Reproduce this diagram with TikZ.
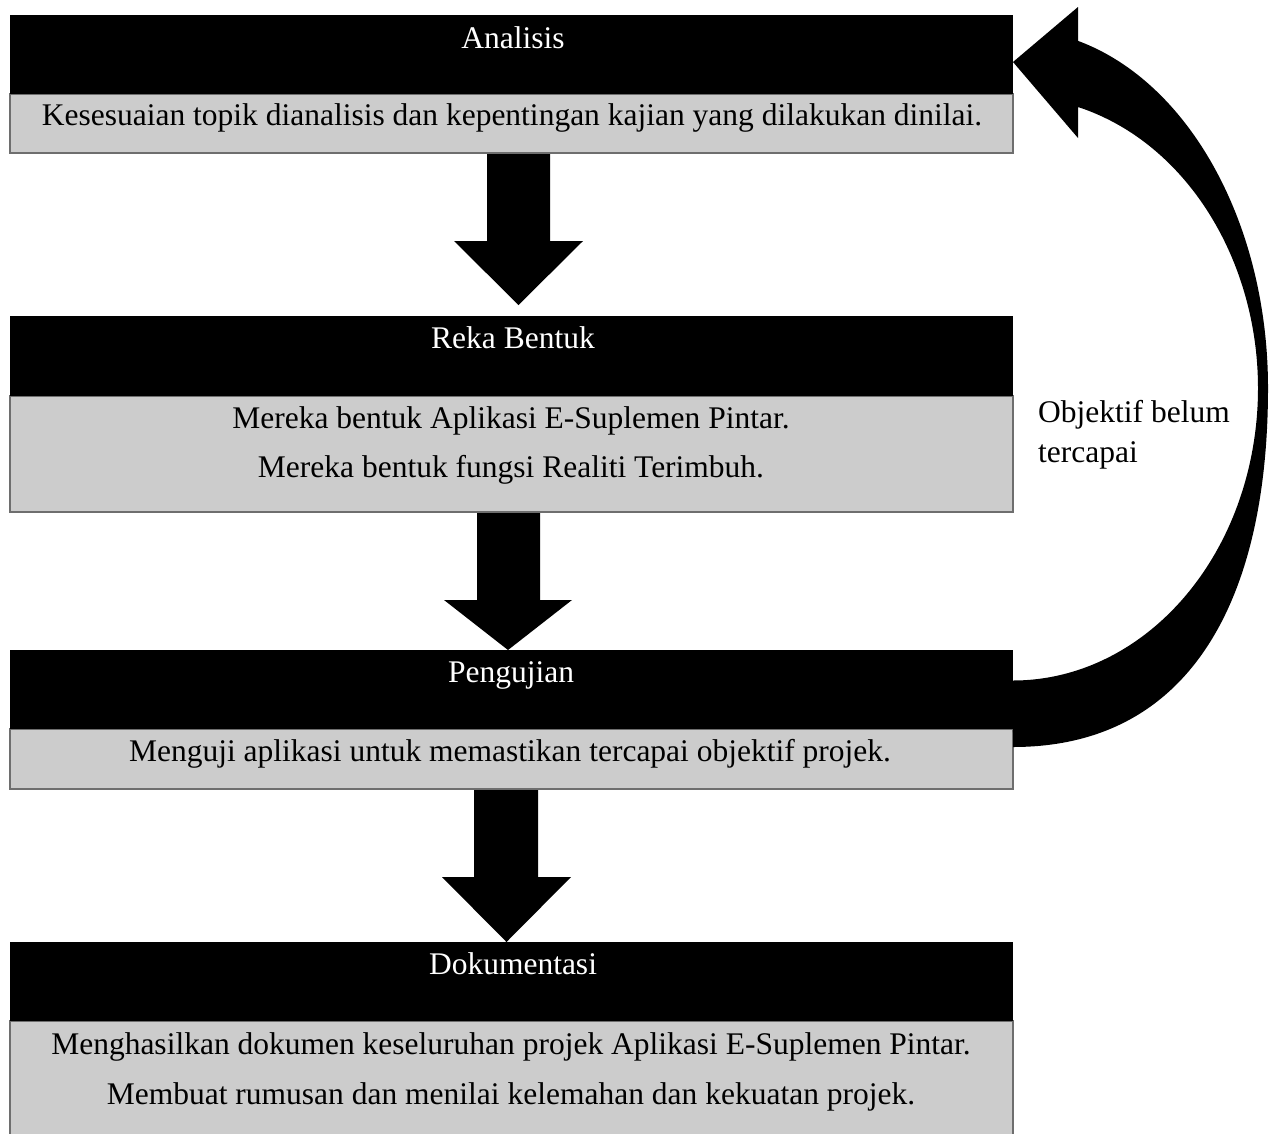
\documentclass[tikz,border=0pt]{standalone}
\usepackage{fontspec}
\setmainfont{Liberation Serif}
\definecolor{boxgray}{HTML}{CCCCCC}
\definecolor{bordergray}{HTML}{6E6E6E}
\begin{document}
\begin{tikzpicture}[x=1pt,y=-1pt,
  hdr/.style={fill=black, draw=none, minimum width=1003pt, anchor=north west, inner sep=0pt, outer sep=0pt},
  bodybox/.style={fill=boxgray, draw=bordergray, line width=2pt, minimum width=1003pt, anchor=north west, inner sep=0pt, outer sep=0pt},
  htext/.style={text=white, anchor=base, inner sep=0pt, font=\fontsize{31.5}{36}\selectfont},
  btext/.style={text=black, anchor=base, inner sep=0pt, font=\fontsize{31.5}{36}\selectfont},
  blockarrow/.style={fill=black, draw=none}
]
\useasboundingbox (0,0) rectangle (1269,1133);
\fill[white] (0,0) rectangle (1269,1133);

% Box 1
\node[bodybox, minimum height=59pt] (b1) at (10,94) {};
\node[hdr, minimum height=79pt] (h1) at (10,15) {};
\node[htext] (t1h) at (513,48) {Analisis};
\node[btext] (t1b) at (512,125) {Kesesuaian topik dianalisis dan kepentingan kajian yang dilakukan dinilai.};

% Box 2
\node[bodybox, minimum height=116pt] (b2) at (10,396) {};
\node[hdr, minimum height=80pt] (h2) at (10,316) {};
\node[htext] (t2h) at (513,348) {Reka Bentuk};
\node[btext] (t2b1) at (511,428) {Mereka bentuk Aplikasi E-Suplemen Pintar.};
\node[btext] (t2b2) at (511,477) {Mereka bentuk fungsi Realiti Terimbuh.};

% Box 3
\node[bodybox, minimum height=60pt] (b3) at (10,729) {};
\node[hdr, minimum height=79pt] (h3) at (10,650) {};
\node[htext] (t3h) at (511,682) {Pengujian};
\node[btext] (t3b) at (510,761) {Menguji aplikasi untuk memastikan tercapai objektif projek.};

% Box 4
\node[bodybox, minimum height=125pt] (b4) at (10,1021) {};
\node[hdr, minimum height=79pt] (h4) at (10,942) {};
\node[htext] (t4h) at (513,974) {Dokumentasi};
\node[btext] (t4b1) at (511,1054) {Menghasilkan dokumen keseluruhan projek Aplikasi E-Suplemen Pintar.};
\node[btext] (t4b2) at (511,1104) {Membuat rumusan dan menilai kelemahan dan kekuatan projek.};

% Down block arrows
\fill[blockarrow] (487,154) -- (550,154) -- (550,241) -- (583,241) -- (518.5,305) -- (454,241) -- (487,241) -- cycle;
\fill[blockarrow] (477,513) -- (540,513) -- (540,600) -- (572,600) -- (508,650) -- (444,600) -- (477,600) -- cycle;
\fill[blockarrow] (474,790) -- (538,790) -- (538,877) -- (571,877) -- (506.5,942) -- (442,877) -- (474,877) -- cycle;

% Curved feedback arrow
\fill[blockarrow] (1013,747) .. controls (1190,747) and (1268,600) .. (1268,388)
  arc[start angle=0, end angle=-75.2, x radius=255, y radius=359]
  -- (1078,7) -- (1013,62) -- (1078,138) -- (1078,107)
  arc[start angle=-74.6, end angle=90, x radius=245, y radius=292] -- cycle;

% Label
\node[btext, anchor=base west] (l1) at (1038,422) {Objektif belum};
\node[btext, anchor=base west] (l2) at (1038,462) {tercapai};
\end{tikzpicture}
\end{document}
